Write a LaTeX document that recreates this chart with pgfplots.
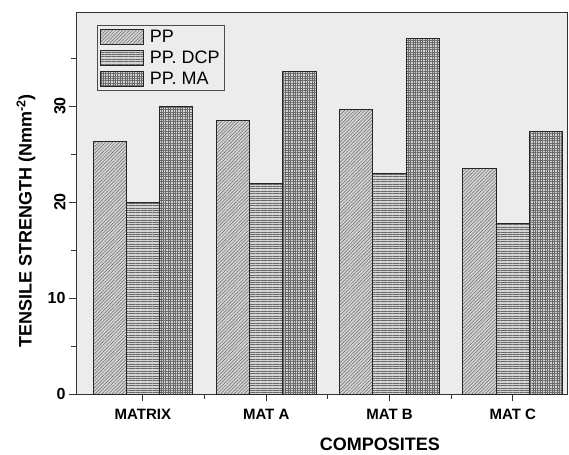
\documentclass[border=0pt]{standalone}
\usepackage{fontspec}
\setmainfont{Liberation Sans}
\usepackage{pgfplots}
\pgfplotsset{compat=1.18}
\usetikzlibrary{patterns.meta}
\definecolor{bgray}{RGB}{236,236,236}
\definecolor{barfill}{RGB}{212,212,212}
\definecolor{patcol}{RGB}{105,105,105}
\begin{document}
\begin{tikzpicture}[x=1bp,y=1bp]
\useasboundingbox (-76bp,-61bp) rectangle (493bp,394bp);
\begin{axis}[
  at={(0,0)}, anchor=south west,
  scale only axis,
  width=491bp, height=381bp,
  xmin=-0.543, xmax=3.44,
  ymin=0, ymax=39.7,
  ybar=0pt,
  bar width=0.27,
  axis background/.style={fill=bgray},
  axis line style={line width=1pt, black!80},
  xtick={0,1,2,3},
  xticklabels={MATRIX,MAT A,MAT B,MAT C},
  minor xtick={0.5,1.5,2.5},
  ytick={0,10,20,30},
  yticklabels={0,10,\rotatebox{90}{20},\rotatebox{90}{30}},
  minor ytick={5,15,25,35},
  tick align=outside,
  major tick length=7bp, minor tick length=5bp,
  tick style={line width=1pt, black!80},
  xtick pos=bottom, ytick pos=left,
  /pgf/number format/assume math mode=true,
  xticklabel style={font=\fontsize{15bp}{17bp}\selectfont\bfseries, yshift=-5bp},
  yticklabel style={font=\fontsize{16bp}{18bp}\selectfont\bfseries},
  xlabel={COMPOSITES},
  ylabel={TENSILE STRENGTH (Nmm\textsuperscript{-2})},
  label style={font=\fontsize{18bp}{20bp}\selectfont\bfseries},
  xlabel style={at={(axis description cs:0.619,-0.132)}, anchor=center},
  ylabel style={at={(axis description cs:-0.102,0.454)}, anchor=center},
  area legend,
  legend cell align=left,
  legend style={at={(0.043,0.968)}, anchor=north west, fill=bgray, draw=black!70, line width=0.8pt,
    font=\fontsize{18bp}{21bp}\selectfont, row sep=2bp, inner sep=2bp,
    nodes={inner sep=2.5bp}},
  legend image code/.code={\draw[#1, line width=1pt] (0bp,-7.5bp) rectangle (43bp,7.5bp); \path (47bp,0bp);},
  every axis plot/.append style={draw=black!85, line width=0.9pt},
]
\addplot[fill=barfill, postaction={pattern={Lines[angle=45,distance=2.4bp,line width=0.5bp]}, pattern color=patcol}]
  coordinates {(0,26.35) (1,28.5) (2,29.6) (3,23.5)};
\addplot[fill=barfill, postaction={pattern={Lines[angle=0,distance=2.4bp,line width=0.5bp]}, pattern color=patcol}]
  coordinates {(0,20.0) (1,21.9) (2,23.0) (3,17.8)};
\addplot[fill=barfill, postaction={pattern={Hatch[angle=0,distance=2.4bp,line width=0.5bp]}, pattern color=patcol}]
  coordinates {(0,30.0) (1,33.6) (2,37.0) (3,27.4)};
\legend{PP,PP. DCP,PP. MA}
\end{axis}
\end{tikzpicture}
\end{document}
